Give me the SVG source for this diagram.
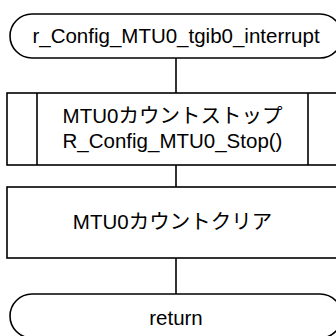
<svg xmlns="http://www.w3.org/2000/svg" width="336" height="336" viewBox="0 0 336 336">
<style>
.s{fill:#fff;stroke:#000;stroke-width:1.6}
.c{stroke:#000;stroke-width:1.6;fill:none}
text{font-family:"Liberation Sans","Noto Sans CJK JP",sans-serif;font-size:20.5px;fill:#000;text-anchor:middle}
</style>
<rect width="336" height="336" fill="#fff"/>
<g id="connectors">
<line class="c" x1="176" y1="58" x2="176" y2="93"/>
<line class="c" x1="176" y1="165" x2="176" y2="187"/>
<line class="c" x1="176" y1="258" x2="176" y2="294"/>
</g>
<g id="start">
<rect class="s" x="10" y="14" width="332" height="44" rx="22" ry="22"/>
<text x="176" y="43">r_Config_MTU0_tgib0_interrupt</text>
</g>
<g id="stop">
<rect class="s" x="7" y="93" width="331" height="72"/>
<line class="c" x1="37" y1="93" x2="37" y2="165"/>
<line class="c" x1="308" y1="93" x2="308" y2="165"/>
<text x="172.5" y="123">MTU0カウントストップ</text>
<text x="172.5" y="148">R_Config_MTU0_Stop()</text>
</g>
<g id="clear">
<rect class="s" x="7" y="187" width="331" height="71"/>
<text x="172.5" y="229">MTU0カウントクリア</text>
</g>
<g id="end">
<rect class="s" x="10" y="294" width="332" height="44" rx="22" ry="22"/>
<text x="176" y="325">return</text>
</g>
</svg>
